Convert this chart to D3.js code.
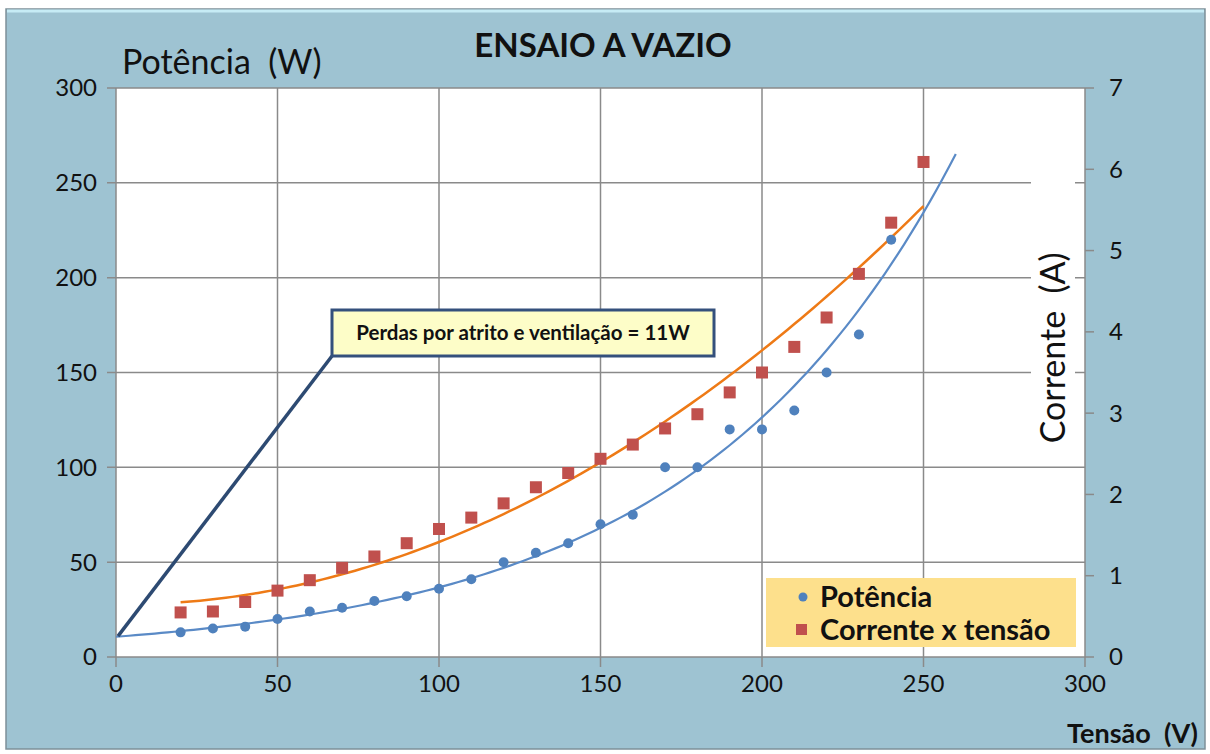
<!DOCTYPE html>
<html>
<head>
<meta charset="utf-8">
<script src="https://cdn.jsdelivr.net/npm/d3@7"></script>
<style>
  body { margin: 0; background: #fff; }
  text { font-family: Lato, "Open Sans", sans-serif; fill: #111; white-space: pre; }
</style>
</head>
<body>
<div id="chart"></div>
<script>
const tensaoP = [20, 30, 40, 50, 60, 70, 80, 90, 100, 110, 120, 130, 140, 150, 160, 170, 180, 190, 200, 210, 220, 230, 240];
const potencia = [13, 15, 16, 20, 24, 26, 29.5, 32, 36, 41, 50, 55, 60, 70, 75, 100, 100, 120, 120, 130, 150, 170, 220];
const tensaoC = [20, 30, 40, 50, 60, 70, 80, 90, 100, 110, 120, 130, 140, 150, 160, 170, 180, 190, 200, 210, 220, 230, 240, 250];
const correnteTensao = [23.5, 24, 29, 35, 40.5, 47, 53, 60, 67.5, 73.5, 81, 89.5, 97, 104.5, 112, 120.5, 128, 139.5, 150, 163.5, 179, 202, 229, 261];
const xTicks = [0, 50, 100, 150, 200, 250, 300];
const yTicks = [0, 50, 100, 150, 200, 250, 300];
const y2Ticks = [0, 1, 2, 3, 4, 5, 6, 7];
const perdas = 11;

const width = 1210, height = 754;
const margin = { top: 88, right: 125, bottom: 97, left: 116 };
const pw = width - margin.left - margin.right,
  ph = height - margin.top - margin.bottom;

const svg = d3
  .select("#chart")
  .append("svg")
  .attr("width", width)
  .attr("height", height);

// outer chart frame
svg.append("rect")
  .attr("x", 6).attr("y", 9)
  .attr("width", 1199).attr("height", 740)
  .style("fill", "#9ec3d2")
  .style("stroke", "#7d9099")
  .style("stroke-width", 1.5);
svg.append("line")
  .attr("x1", 7).attr("x2", 1204).attr("y1", 11).attr("y2", 11)
  .style("stroke", "#c6ebf5").style("stroke-width", 3);

const x = d3.scaleLinear().domain([0, 300]).range([0, pw]);
const y = d3.scaleLinear().domain([0, 300]).range([ph, 0]);
const y2 = d3.scaleLinear().domain([0, 7]).range([ph, 0]);

const g = svg.append("g")
  .attr("transform", "translate(" + margin.left + "," + margin.top + ")");

g.append("rect")
  .attr("width", pw).attr("height", ph)
  .style("fill", "#fff");

// gridlines
g.selectAll(".vgrid")
  .data(xTicks)
  .enter()
  .append("line")
  .attr("x1", d => x(d)).attr("x2", d => x(d))
  .attr("y1", 0).attr("y2", ph + 10)
  .style("stroke", "#8a8a8a").style("stroke-width", 1.5);

g.selectAll(".hgrid")
  .data(yTicks)
  .enter()
  .append("line")
  .attr("x1", -9).attr("x2", pw)
  .attr("y1", d => y(d)).attr("y2", d => y(d))
  .style("stroke", "#8a8a8a").style("stroke-width", 1.5);

// right axis ticks
g.selectAll(".rtick")
  .data(y2Ticks)
  .enter()
  .append("line")
  .attr("x1", pw).attr("x2", pw + 9)
  .attr("y1", d => y2(d)).attr("y2", d => y2(d))
  .style("stroke", "#8a8a8a").style("stroke-width", 1.5);

// tick labels
g.selectAll(".xl")
  .data(xTicks)
  .enter()
  .append("text")
  .attr("x", d => x(d)).attr("y", ph + 35)
  .attr("text-anchor", "middle")
  .style("font-size", "24px")
  .text(d => d);

g.selectAll(".yl")
  .data(yTicks)
  .enter()
  .append("text")
  .attr("x", -19).attr("y", d => y(d))
  .attr("dy", "0.35em")
  .attr("text-anchor", "end")
  .style("font-size", "24px")
  .text(d => d);

g.selectAll(".y2l")
  .data(y2Ticks)
  .enter()
  .append("text")
  .attr("x", pw + 24).attr("y", d => y2(d))
  .attr("dy", "0.35em")
  .style("font-size", "24px")
  .text(d => d);

// right axis title sits on a white box over the grid
g.append("rect")
  .attr("x", pw - 54).attr("y", y(270))
  .attr("width", 44).attr("height", 300)
  .style("fill", "#fff");
g.append("text")
  .attr("transform", "translate(" + (pw - 20) + "," + y(163) + ") rotate(-90)")
  .attr("text-anchor", "middle")
  .style("font-size", "34px")
  .text("Corrente  (A)");

// trendlines: exponential fit of potência, polynomial (2nd order) fit of corrente x tensão
function expFit(xs, ys) {
  const lx = d3.mean(xs), ly = d3.mean(ys.map(Math.log));
  const b = d3.sum(xs, (v, i) => (v - lx) * (Math.log(ys[i]) - ly)) / d3.sum(xs, v => (v - lx) * (v - lx));
  const a = Math.exp(ly - b * lx);
  return v => a * Math.exp(b * v);
}

function polyFit2(xs, ys) {
  const s = k => d3.sum(xs, v => Math.pow(v, k));
  const t = k => d3.sum(xs, (v, i) => Math.pow(v, k) * ys[i]);
  const A = [[s(0), s(1), s(2)], [s(1), s(2), s(3)], [s(2), s(3), s(4)]];
  const B = [t(0), t(1), t(2)];
  // gaussian elimination
  for (let i = 0; i < 3; i++) {
    for (let j = i + 1; j < 3; j++) {
      const f = A[j][i] / A[i][i];
      for (let k = i; k < 3; k++) A[j][k] -= f * A[i][k];
      B[j] -= f * B[i];
    }
  }
  const c = [0, 0, 0];
  for (let i = 2; i >= 0; i--) {
    let sum = B[i];
    for (let k = i + 1; k < 3; k++) sum -= A[i][k] * c[k];
    c[i] = sum / A[i][i];
  }
  return v => c[0] + c[1] * v + c[2] * v * v;
}

const fP = expFit(tensaoP, potencia);
const fC = polyFit2(tensaoC, correnteTensao);

const line = d3.line().x(d => x(d[0])).y(d => y(d[1]));

g.append("path")
  .datum(d3.range(20, 250.5, 2).map(v => [v, fC(v)]))
  .attr("d", line)
  .style("fill", "none")
  .style("stroke", "#ee7a16")
  .style("stroke-width", 2.5);

g.append("path")
  .datum(d3.range(0, 260.5, 2).map(v => [v, fP(v)]))
  .attr("d", line)
  .style("fill", "none")
  .style("stroke", "#5a8ac6")
  .style("stroke-width", 2.2);

// points
g.selectAll(".sq")
  .data(tensaoC)
  .enter()
  .append("rect")
  .attr("x", d => x(d) - 6)
  .attr("y", (d, i) => y(correnteTensao[i]) - 6)
  .attr("width", 12).attr("height", 12)
  .style("fill", "#c0504d");

g.selectAll(".dot")
  .data(tensaoP)
  .enter()
  .append("circle")
  .attr("cx", d => x(d))
  .attr("cy", (d, i) => y(potencia[i]))
  .attr("r", 5)
  .style("fill", "#4f81bd");

// annotation
const box = { x: 332 - margin.left, y: 310 - margin.top, w: 382, h: 46 };
g.append("line")
  .attr("x1", box.x).attr("y1", box.y + box.h)
  .attr("x2", x(0) + 2).attr("y2", y(perdas))
  .style("stroke", "#2d4a72").style("stroke-width", 3.5);
g.append("rect")
  .attr("x", box.x).attr("y", box.y)
  .attr("width", box.w).attr("height", box.h)
  .style("fill", "#fdfdc8")
  .style("stroke", "#34507c").style("stroke-width", 3);
g.append("text")
  .attr("x", box.x + box.w / 2).attr("y", box.y + box.h / 2)
  .attr("dy", "0.35em")
  .attr("text-anchor", "middle")
  .style("font-size", "20.5px").style("font-weight", "bold")
  .text("Perdas por atrito e ventilação = " + perdas + "W");

// legend
const lg = svg.append("g").attr("transform", "translate(766,578)");
lg.append("rect")
  .attr("width", 310).attr("height", 69)
  .style("fill", "#fde08c");
lg.append("circle").attr("cx", 37).attr("cy", 19).attr("r", 4.5).style("fill", "#4f81bd");
lg.append("rect").attr("x", 30).attr("y", 46).attr("width", 11).attr("height", 11).style("fill", "#c0504d");
lg.append("text").attr("x", 54).attr("y", 19).attr("dy", "0.35em")
  .style("font-size", "29px").style("font-weight", "bold").text("Potência");
lg.append("text").attr("x", 54).attr("y", 52).attr("dy", "0.35em")
  .style("font-size", "29px").style("font-weight", "bold").text("Corrente x tensão");

// titles
svg.append("text")
  .attr("x", 603).attr("y", 57)
  .attr("text-anchor", "middle")
  .style("font-size", "33px").style("font-weight", "bold")
  .text("ENSAIO A VAZIO");
svg.append("text")
  .attr("x", 122).attr("y", 74)
  .style("font-size", "34px")
  .text("Potência  (W)");
svg.append("text")
  .attr("x", 1198).attr("y", 743)
  .attr("text-anchor", "end")
  .style("font-size", "27px").style("font-weight", "bold")
  .text("Tensão  (V)");
</script>
</body>
</html>
